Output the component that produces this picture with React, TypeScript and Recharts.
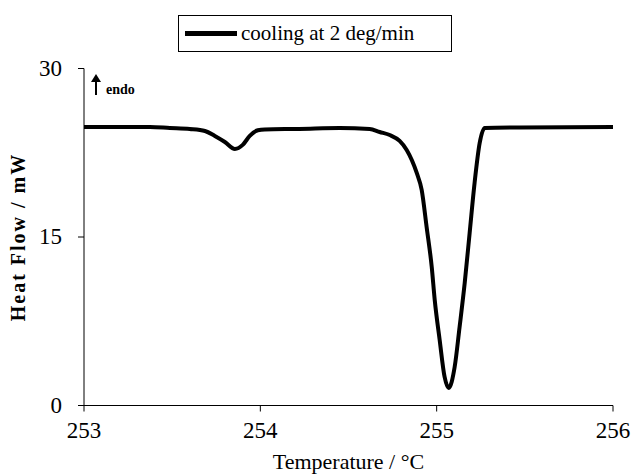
import React from "react";
import { LineChart, Line, XAxis, YAxis, Legend, Customized } from "recharts";

const temperature = [
  253.0, 253.374, 253.487, 253.6, 253.686, 253.742, 253.799, 253.856, 253.9, 253.94,
  253.986, 254.025, 254.22, 254.45, 254.62, 254.677, 254.734, 254.79, 254.83, 254.887,
  254.915, 254.943, 254.972, 254.989, 255.017, 255.045, 255.068, 255.102, 255.13, 255.159,
  255.187, 255.215, 255.244, 255.272, 255.47, 256.0,
];
const heatFlow = [
  24.8, 24.8, 24.71, 24.62, 24.44, 24.0, 23.46, 22.84, 23.2, 24.0,
  24.5, 24.58, 24.62, 24.7, 24.62, 24.35, 24.08, 23.55, 22.75, 20.7,
  19.19, 15.9, 12.33, 9.39, 5.83, 2.54, 1.56, 3.43, 6.99, 10.9,
  15.36, 19.81, 23.37, 24.7, 24.75, 24.8,
];
const xTicks = [253, 254, 255, 256];
const yTicks = [0, 15, 30];
const seriesName = "cooling at 2 deg/min";

const data = temperature.map((t, i) => ({ t, v: heatFlow[i] }));

const FONT = '"Liberation Serif", "Times New Roman", serif';

const LegendBox = () => (
  <div
    style={{
      position: "absolute",
      left: 178,
      top: 15,
      width: 274,
      height: 37,
      border: "1px solid #000",
      background: "#fff",
      display: "flex",
      alignItems: "center",
      fontFamily: FONT,
      fontSize: 21,
      color: "#000",
      boxSizing: "border-box",
    }}
  >
    <div style={{ width: 52, height: 5, background: "#000", marginLeft: 6, marginRight: 4 }} />
    <span>{seriesName}</span>
  </div>
);

const Endo = () => (
  <g>
    <line x1={96} y1={95} x2={96} y2={80} stroke="#000" strokeWidth={2} />
    <path d="M91,82 L96,74 L101,82 Z" fill="#000" />
    <text x={106} y={94} fontFamily={FONT} fontWeight="bold" fontSize={14} fill="#000">
      endo
    </text>
  </g>
);

const YTick = (props: any) => {
  const { x, y, payload } = props;
  return (
    <text x={x - 14} y={y} dy={7} textAnchor="end" fontFamily={FONT} fontSize={23} fill="#000">
      {payload.value}
    </text>
  );
};

const XTick = (props: any) => {
  const { x, y, payload } = props;
  return (
    <text x={x} y={y} dy={24} textAnchor="middle" fontFamily={FONT} fontSize={23} fill="#000">
      {payload.value}
    </text>
  );
};

export default function App() {
  return (
    <div style={{ position: "absolute", left: 0, top: 0, width: 634, height: 475, background: "#fff" }}>
      <LineChart
        width={634}
        height={475}
        data={data}
        margin={{ top: 68.5, right: 21, bottom: 0, left: 0 }}
      >
        <XAxis
          dataKey="t"
          type="number"
          domain={[253, 256]}
          ticks={xTicks}
          stroke="#000"
          tickLine={{ stroke: "#000" }}
          tickSize={6}
          height={69.5}
          tick={<XTick />}
          label={{
            value: "Temperature / \u00B0C",
            position: "insideBottom",
            offset: 6,
            fill: "#000",
            fontFamily: FONT,
            fontSize: 22,
          }}
        />
        <YAxis
          type="number"
          domain={[0, 30]}
          ticks={yTicks}
          stroke="#000"
          tickSize={6}
          width={84}
          tick={<YTick />}
          label={{
            value: "Heat Flow / mW",
            angle: -90,
            position: "insideLeft",
            offset: 18,
            style: { textAnchor: "middle", letterSpacing: 2 },
            fill: "#000",
            fontFamily: FONT,
            fontWeight: "bold",
            fontSize: 20,
          }}
        />
        <Legend content={() => <LegendBox />} wrapperStyle={{ position: "absolute", left: 0, top: 0, width: 0, height: 0 }} />
        <Line
          type="monotone"
          dataKey="v"
          name={seriesName}
          stroke="#000"
          strokeWidth={4}
          dot={false}
          isAnimationActive={false}
        />
        <Customized component={Endo} />
      </LineChart>
    </div>
  );
}
